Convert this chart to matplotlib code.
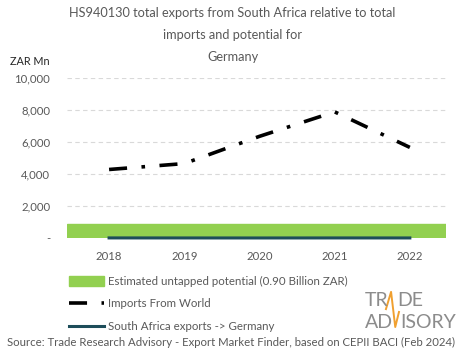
import numpy as np
import matplotlib.pyplot as plt
from matplotlib.patches import Patch
from matplotlib.lines import Line2D

years = ["2018", "2019", "2020", "2021", "2022"]
imports_world = [4280, 4650, 6350, 7880, 5660]
sa_exports = [6, 4, 3, 5, 4]
untapped_potential = 900  # ZAR Mn (0.90 Billion ZAR)

grey = "#595959"
green = "#92d050"
teal = "#1d4d5a"

plt.rcParams['font.family'] = ['Lato', 'DejaVu Sans']

fig = plt.figure(figsize=(4.65, 3.59), dpi=100)
ax = fig.add_axes([0.144, 0.337, 0.815, 0.446])

x = np.arange(len(years))
ax.axhspan(0, untapped_potential, color=green, zorder=1)
ax.plot(x, imports_world, color="black", lw=2.6, linestyle=(0, (5, 4, 1, 4)), zorder=3)
ax.plot(x, sa_exports, color=teal, lw=2.2, zorder=3, clip_on=False)

ax.set_xlim(-0.56, 4.48)
ax.set_ylim(0, 10000)
ax.set_yticks([0, 2000, 4000, 6000, 8000, 10000])
ax.set_yticklabels(["-", "2,000", "4,000", "6,000", "8,000", "10,000"])
ax.set_xticks(x)
ax.set_xticklabels(years)
for y in [2000, 4000, 6000, 8000, 10000]:
    ax.axhline(y, color="#d9d9d9", lw=0.8, linestyle=(0, (4, 3)), zorder=0)
for s in ax.spines.values():
    s.set_visible(False)
ax.tick_params(length=0, colors=grey, labelsize=8.2)
ax.tick_params(axis="x", pad=9)
ax.tick_params(axis="y", pad=12)

fig.text(0.5, 0.965, "HS940130 total exports from South Africa relative to total",
         ha="center", va="center", fontsize=9.2, color=grey)
fig.text(0.5, 0.903, "imports and potential for", ha="center", va="center", fontsize=9.2, color=grey)
fig.text(0.5, 0.842, "Germany", ha="center", va="center", fontsize=9.2, color=grey)
fig.text(0.022, 0.83, "ZAR Mn", ha="left", va="center", fontsize=7.8, color="#262626")

handles = [Patch(color=green),
           Line2D([0], [0], color="black", lw=2.6, linestyle=(0, (5, 4, 1, 4))),
           Line2D([0], [0], color=teal, lw=2.2)]
labels = ["Estimated untapped potential (0.90 Billion ZAR)",
          "Imports From World",
          "South Africa exports -> Germany"]
fig.legend(handles, labels, loc="upper left", bbox_to_anchor=(0.137, 0.248),
           frameon=False, fontsize=8.3, labelcolor=grey, handlelength=3.0,
           handleheight=1.0, labelspacing=1.0, handletextpad=0.35, borderpad=0)

# logo
logo_grey = "#8c8c8c"
fig.text(0.785, 0.163, "TR", ha="left", va="center", fontsize=14, color=logo_grey)
fig.text(0.854, 0.163, "DE", ha="left", va="center", fontsize=14, color=logo_grey)
fig.text(0.785, 0.102, "AD", ha="left", va="center", fontsize=14, color=logo_grey)
fig.text(0.860, 0.102, "ISORY", ha="left", va="center", fontsize=14, color=logo_grey)
fig.add_artist(Line2D([0.830, 0.841, 0.850, 0.858], [0.139, 0.187, 0.089, 0.131],
                      color="#f0a030", lw=1.4, transform=fig.transFigure))

fig.text(0.016, 0.045, "Source: Trade Research Advisory - Export Market Finder, based on CEPII BACI (Feb 2024)",
         ha="left", va="center", fontsize=8.2, color=grey)

fig.savefig("out.png", dpi=100)
